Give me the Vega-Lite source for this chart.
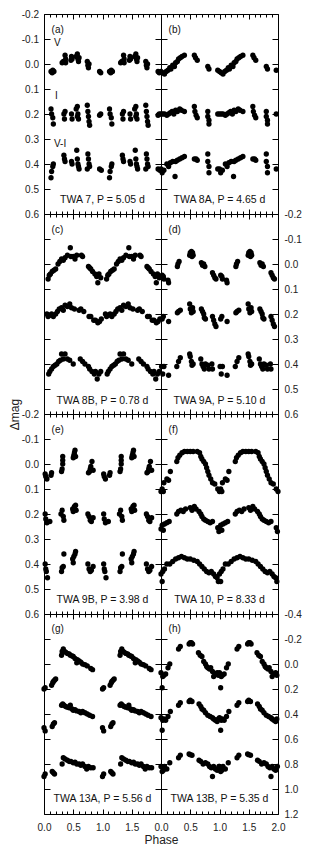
{
"$schema":"https://vega.github.io/schema/vega-lite/v6.json",
"padding":{"left":8,"top":9,"right":5,"bottom":5},
"background":"white",
"config":{
 "view":{"stroke":null},
 "font":"Liberation Sans",
 "text":{"font":"Liberation Sans","fontSize":10,"color":"#111"},
 "axis":{"domainColor":"#000","domainWidth":1,"tickColor":"#000","tickWidth":1,"grid":false,"labelFont":"Liberation Sans","labelFontSize":10,"labelColor":"#222","labelOverlap":false,"labelFlush":false,"labelBound":false,"titleFont":"Liberation Sans","titleFontSize":12,"titleFontWeight":"normal","titleColor":"#222"}
},
"datasets":{
"a":[{"x":0.12,"y":0.03},{"x":0.14,"y":0.035},{"x":0.15,"y":0.025},{"x":0.17,"y":0.03},{"x":0.31,"y":-0.005},{"x":0.33,"y":-0.01},{"x":0.36,"y":-0.035},{"x":0.37,"y":-0.02},{"x":0.37,"y":-0.005},{"x":0.46,"y":-0.015},{"x":0.47,"y":-0.03},{"x":0.48,"y":-0.02},{"x":0.55,"y":-0.03},{"x":0.57,"y":-0.04},{"x":0.58,"y":-0.02},{"x":0.59,"y":-0.01},{"x":0.6,"y":-0.025},{"x":0.74,"y":-0.01},{"x":0.75,"y":0.005},{"x":0.76,"y":0.015},{"x":0.77,"y":0.0},{"x":0.95,"y":0.03},{"x":0.97,"y":0.035},
{"x":1.12,"y":0.03},{"x":1.14,"y":0.035},{"x":1.15,"y":0.025},{"x":1.17,"y":0.03},{"x":1.31,"y":-0.005},{"x":1.33,"y":-0.01},{"x":1.36,"y":-0.035},{"x":1.37,"y":-0.02},{"x":1.37,"y":-0.005},{"x":1.46,"y":-0.015},{"x":1.47,"y":-0.03},{"x":1.48,"y":-0.02},{"x":1.55,"y":-0.03},{"x":1.57,"y":-0.04},{"x":1.58,"y":-0.02},{"x":1.59,"y":-0.01},{"x":1.6,"y":-0.025},{"x":1.74,"y":-0.01},{"x":1.75,"y":0.005},{"x":1.76,"y":0.015},{"x":1.77,"y":0.0},{"x":1.95,"y":0.03},{"x":1.97,"y":0.035},
{"x":0.12,"y":0.18},{"x":0.13,"y":0.2},{"x":0.15,"y":0.215},{"x":0.16,"y":0.24},{"x":0.34,"y":0.2},{"x":0.35,"y":0.22},{"x":0.36,"y":0.19},{"x":0.47,"y":0.2},{"x":0.48,"y":0.22},{"x":0.55,"y":0.18},{"x":0.57,"y":0.17},{"x":0.58,"y":0.2},{"x":0.59,"y":0.22},{"x":0.57,"y":0.21},{"x":0.74,"y":0.165},{"x":0.75,"y":0.19},{"x":0.76,"y":0.21},{"x":0.77,"y":0.23},{"x":0.78,"y":0.245},{"x":0.95,"y":0.205},{"x":0.97,"y":0.2},
{"x":1.12,"y":0.18},{"x":1.13,"y":0.2},{"x":1.15,"y":0.215},{"x":1.16,"y":0.24},{"x":1.34,"y":0.2},{"x":1.35,"y":0.22},{"x":1.36,"y":0.19},{"x":1.47,"y":0.2},{"x":1.48,"y":0.22},{"x":1.55,"y":0.18},{"x":1.57,"y":0.17},{"x":1.58,"y":0.2},{"x":1.59,"y":0.22},{"x":1.57,"y":0.21},{"x":1.74,"y":0.165},{"x":1.75,"y":0.19},{"x":1.76,"y":0.21},{"x":1.77,"y":0.23},{"x":1.78,"y":0.245},{"x":1.95,"y":0.205},{"x":1.97,"y":0.2},
{"x":0.12,"y":0.455},{"x":0.13,"y":0.43},{"x":0.15,"y":0.41},{"x":0.16,"y":0.4},{"x":0.34,"y":0.365},{"x":0.35,"y":0.38},{"x":0.36,"y":0.39},{"x":0.47,"y":0.39},{"x":0.48,"y":0.4},{"x":0.56,"y":0.345},{"x":0.57,"y":0.38},{"x":0.58,"y":0.4},{"x":0.6,"y":0.42},{"x":0.59,"y":0.41},{"x":0.74,"y":0.42},{"x":0.75,"y":0.36},{"x":0.76,"y":0.38},{"x":0.77,"y":0.4},{"x":0.78,"y":0.41},{"x":0.95,"y":0.42},{"x":0.98,"y":0.425},
{"x":1.12,"y":0.455},{"x":1.13,"y":0.43},{"x":1.15,"y":0.41},{"x":1.16,"y":0.4},{"x":1.34,"y":0.365},{"x":1.35,"y":0.38},{"x":1.36,"y":0.39},{"x":1.47,"y":0.39},{"x":1.48,"y":0.4},{"x":1.56,"y":0.345},{"x":1.57,"y":0.38},{"x":1.58,"y":0.4},{"x":1.6,"y":0.42},{"x":1.59,"y":0.41},{"x":1.74,"y":0.42},{"x":1.75,"y":0.36},{"x":1.76,"y":0.38},{"x":1.77,"y":0.4},{"x":1.78,"y":0.41},{"x":1.95,"y":0.42},{"x":1.98,"y":0.425}],
"b":[{"x":0.0,"y":0.03},{"x":0.03,"y":0.035},{"x":0.06,"y":0.04},{"x":0.09,"y":0.03},{"x":0.12,"y":0.025},{"x":0.15,"y":0.015},{"x":0.17,"y":0.02},{"x":0.2,"y":0.005},{"x":0.23,"y":0.01},{"x":0.25,"y":-0.005},{"x":0.28,"y":-0.01},{"x":0.3,"y":-0.02},{"x":0.33,"y":-0.025},{"x":0.36,"y":-0.03},{"x":0.4,"y":-0.035},{"x":0.57,"y":-0.035},{"x":0.59,"y":-0.025},{"x":0.62,"y":-0.015},{"x":0.8,"y":0.01},{"x":0.82,"y":0.02},{"x":0.97,"y":0.025},
{"x":1.0,"y":0.03},{"x":1.03,"y":0.035},{"x":1.06,"y":0.04},{"x":1.09,"y":0.03},{"x":1.12,"y":0.025},{"x":1.15,"y":0.015},{"x":1.17,"y":0.02},{"x":1.2,"y":0.005},{"x":1.23,"y":0.01},{"x":1.25,"y":-0.005},{"x":1.28,"y":-0.01},{"x":1.3,"y":-0.02},{"x":1.33,"y":-0.025},{"x":1.36,"y":-0.03},{"x":1.4,"y":-0.035},{"x":1.57,"y":-0.035},{"x":1.59,"y":-0.025},{"x":1.62,"y":-0.015},{"x":1.8,"y":0.01},{"x":1.82,"y":0.02},{"x":1.97,"y":0.025},
{"x":0.0,"y":0.2},{"x":0.03,"y":0.2},{"x":0.06,"y":0.2},{"x":0.1,"y":0.205},{"x":0.13,"y":0.2},{"x":0.16,"y":0.195},{"x":0.19,"y":0.19},{"x":0.22,"y":0.2},{"x":0.25,"y":0.185},{"x":0.28,"y":0.19},{"x":0.32,"y":0.18},{"x":0.35,"y":0.185},{"x":0.4,"y":0.19},{"x":0.57,"y":0.17},{"x":0.58,"y":0.19},{"x":0.6,"y":0.205},{"x":0.62,"y":0.215},{"x":0.8,"y":0.19},{"x":0.8,"y":0.21},{"x":0.82,"y":0.225},{"x":0.82,"y":0.24},{"x":0.97,"y":0.2},
{"x":1.0,"y":0.2},{"x":1.03,"y":0.2},{"x":1.06,"y":0.2},{"x":1.1,"y":0.205},{"x":1.13,"y":0.2},{"x":1.16,"y":0.195},{"x":1.19,"y":0.19},{"x":1.22,"y":0.2},{"x":1.25,"y":0.185},{"x":1.28,"y":0.19},{"x":1.32,"y":0.18},{"x":1.35,"y":0.185},{"x":1.4,"y":0.19},{"x":1.57,"y":0.17},{"x":1.58,"y":0.19},{"x":1.6,"y":0.205},{"x":1.62,"y":0.215},{"x":1.8,"y":0.19},{"x":1.8,"y":0.21},{"x":1.82,"y":0.225},{"x":1.82,"y":0.24},{"x":1.97,"y":0.2},
{"x":0.0,"y":0.42},{"x":0.02,"y":0.435},{"x":0.05,"y":0.425},{"x":0.1,"y":0.4},{"x":0.13,"y":0.41},{"x":0.16,"y":0.395},{"x":0.2,"y":0.39},{"x":0.24,"y":0.45},{"x":0.25,"y":0.39},{"x":0.28,"y":0.385},{"x":0.32,"y":0.38},{"x":0.36,"y":0.375},{"x":0.4,"y":0.37},{"x":0.57,"y":0.38},{"x":0.6,"y":0.38},{"x":0.62,"y":0.385},{"x":0.8,"y":0.36},{"x":0.8,"y":0.39},{"x":0.82,"y":0.41},{"x":0.82,"y":0.435},{"x":0.97,"y":0.42},
{"x":1.0,"y":0.42},{"x":1.02,"y":0.435},{"x":1.05,"y":0.425},{"x":1.1,"y":0.4},{"x":1.13,"y":0.41},{"x":1.16,"y":0.395},{"x":1.2,"y":0.39},{"x":1.24,"y":0.45},{"x":1.25,"y":0.39},{"x":1.28,"y":0.385},{"x":1.32,"y":0.38},{"x":1.36,"y":0.375},{"x":1.4,"y":0.37},{"x":1.57,"y":0.38},{"x":1.6,"y":0.38},{"x":1.62,"y":0.385},{"x":1.8,"y":0.36},{"x":1.8,"y":0.39},{"x":1.82,"y":0.41},{"x":1.82,"y":0.435},{"x":1.97,"y":0.42}],
"c":[{"x":0.07,"y":0.06},{"x":0.09,"y":0.045},{"x":0.11,"y":0.04},{"x":0.14,"y":0.03},{"x":0.17,"y":0.025},{"x":0.2,"y":0.02},{"x":0.24,"y":0.0},{"x":0.27,"y":-0.01},{"x":0.3,"y":-0.02},{"x":0.33,"y":-0.015},{"x":0.36,"y":-0.025},{"x":0.4,"y":-0.035},{"x":0.45,"y":-0.065},{"x":0.46,"y":-0.03},{"x":0.5,"y":-0.03},{"x":0.53,"y":-0.02},{"x":0.56,"y":-0.035},{"x":0.64,"y":-0.035},{"x":0.66,"y":-0.03},{"x":0.76,"y":0.01},{"x":0.78,"y":0.015},{"x":0.8,"y":0.02},{"x":0.83,"y":0.03},{"x":0.87,"y":0.04},{"x":0.9,"y":0.05},{"x":0.92,"y":0.075},{"x":0.94,"y":0.04},{"x":0.97,"y":0.055},
{"x":1.07,"y":0.06},{"x":1.09,"y":0.045},{"x":1.11,"y":0.04},{"x":1.14,"y":0.03},{"x":1.17,"y":0.025},{"x":1.2,"y":0.02},{"x":1.24,"y":0.0},{"x":1.27,"y":-0.01},{"x":1.3,"y":-0.02},{"x":1.33,"y":-0.015},{"x":1.36,"y":-0.025},{"x":1.4,"y":-0.035},{"x":1.45,"y":-0.065},{"x":1.46,"y":-0.03},{"x":1.5,"y":-0.03},{"x":1.53,"y":-0.02},{"x":1.56,"y":-0.035},{"x":1.64,"y":-0.035},{"x":1.66,"y":-0.03},{"x":1.76,"y":0.01},{"x":1.78,"y":0.015},{"x":1.8,"y":0.02},{"x":1.83,"y":0.03},{"x":1.87,"y":0.04},{"x":1.9,"y":0.05},{"x":1.92,"y":0.075},{"x":1.94,"y":0.04},{"x":1.97,"y":0.055},
{"x":0.05,"y":0.2},{"x":0.07,"y":0.21},{"x":0.1,"y":0.205},{"x":0.13,"y":0.2},{"x":0.16,"y":0.21},{"x":0.2,"y":0.2},{"x":0.23,"y":0.19},{"x":0.26,"y":0.18},{"x":0.3,"y":0.175},{"x":0.33,"y":0.185},{"x":0.36,"y":0.165},{"x":0.4,"y":0.17},{"x":0.44,"y":0.16},{"x":0.47,"y":0.175},{"x":0.52,"y":0.18},{"x":0.6,"y":0.185},{"x":0.63,"y":0.18},{"x":0.68,"y":0.19},{"x":0.77,"y":0.21},{"x":0.8,"y":0.21},{"x":0.85,"y":0.225},{"x":0.88,"y":0.225},{"x":0.92,"y":0.235},{"x":0.95,"y":0.23},{"x":0.98,"y":0.22},
{"x":1.05,"y":0.2},{"x":1.07,"y":0.21},{"x":1.1,"y":0.205},{"x":1.13,"y":0.2},{"x":1.16,"y":0.21},{"x":1.2,"y":0.2},{"x":1.23,"y":0.19},{"x":1.26,"y":0.18},{"x":1.3,"y":0.175},{"x":1.33,"y":0.185},{"x":1.36,"y":0.165},{"x":1.4,"y":0.17},{"x":1.44,"y":0.16},{"x":1.47,"y":0.175},{"x":1.52,"y":0.18},{"x":1.6,"y":0.185},{"x":1.63,"y":0.18},{"x":1.68,"y":0.19},{"x":1.77,"y":0.21},{"x":1.8,"y":0.21},{"x":1.85,"y":0.225},{"x":1.88,"y":0.225},{"x":1.92,"y":0.235},{"x":1.95,"y":0.23},{"x":1.98,"y":0.22},
{"x":0.08,"y":0.44},{"x":0.1,"y":0.43},{"x":0.13,"y":0.42},{"x":0.16,"y":0.41},{"x":0.19,"y":0.405},{"x":0.22,"y":0.4},{"x":0.25,"y":0.39},{"x":0.28,"y":0.385},{"x":0.3,"y":0.36},{"x":0.33,"y":0.38},{"x":0.36,"y":0.36},{"x":0.4,"y":0.38},{"x":0.44,"y":0.385},{"x":0.5,"y":0.4},{"x":0.62,"y":0.38},{"x":0.66,"y":0.39},{"x":0.7,"y":0.4},{"x":0.76,"y":0.41},{"x":0.78,"y":0.42},{"x":0.82,"y":0.43},{"x":0.86,"y":0.44},{"x":0.88,"y":0.43},{"x":0.91,"y":0.46},{"x":0.94,"y":0.44},{"x":0.97,"y":0.43},
{"x":1.08,"y":0.44},{"x":1.1,"y":0.43},{"x":1.13,"y":0.42},{"x":1.16,"y":0.41},{"x":1.19,"y":0.405},{"x":1.22,"y":0.4},{"x":1.25,"y":0.39},{"x":1.28,"y":0.385},{"x":1.3,"y":0.36},{"x":1.33,"y":0.38},{"x":1.36,"y":0.36},{"x":1.4,"y":0.38},{"x":1.44,"y":0.385},{"x":1.5,"y":0.4},{"x":1.62,"y":0.38},{"x":1.66,"y":0.39},{"x":1.7,"y":0.4},{"x":1.76,"y":0.41},{"x":1.78,"y":0.42},{"x":1.82,"y":0.43},{"x":1.86,"y":0.44},{"x":1.88,"y":0.43},{"x":1.91,"y":0.46},{"x":1.94,"y":0.44},{"x":1.97,"y":0.43}],
"d":[{"x":0.02,"y":0.045},{"x":0.04,"y":0.05},{"x":0.05,"y":0.06},{"x":0.12,"y":0.065},{"x":0.13,"y":0.075},{"x":0.28,"y":0.01},{"x":0.29,"y":0.0},{"x":0.31,"y":-0.01},{"x":0.49,"y":-0.035},{"x":0.5,"y":-0.045},{"x":0.52,"y":-0.05},{"x":0.54,"y":-0.045},{"x":0.55,"y":-0.035},{"x":0.53,"y":-0.03},{"x":0.69,"y":-0.005},{"x":0.71,"y":0.005},{"x":0.73,"y":0.0},{"x":0.75,"y":0.01},{"x":0.88,"y":0.035},{"x":0.9,"y":0.045},{"x":0.92,"y":0.055},{"x":0.94,"y":0.06},
{"x":1.02,"y":0.045},{"x":1.04,"y":0.05},{"x":1.05,"y":0.06},{"x":1.12,"y":0.065},{"x":1.13,"y":0.075},{"x":1.28,"y":0.01},{"x":1.29,"y":0.0},{"x":1.31,"y":-0.01},{"x":1.49,"y":-0.035},{"x":1.5,"y":-0.045},{"x":1.52,"y":-0.05},{"x":1.54,"y":-0.045},{"x":1.55,"y":-0.035},{"x":1.53,"y":-0.03},{"x":1.69,"y":-0.005},{"x":1.71,"y":0.005},{"x":1.73,"y":0.0},{"x":1.75,"y":0.01},{"x":1.88,"y":0.035},{"x":1.9,"y":0.045},{"x":1.92,"y":0.055},{"x":1.94,"y":0.06},
{"x":0.02,"y":0.22},{"x":0.04,"y":0.21},{"x":0.13,"y":0.23},{"x":0.28,"y":0.195},{"x":0.3,"y":0.19},{"x":0.33,"y":0.185},{"x":0.49,"y":0.16},{"x":0.5,"y":0.18},{"x":0.52,"y":0.195},{"x":0.54,"y":0.175},{"x":0.55,"y":0.19},{"x":0.69,"y":0.18},{"x":0.71,"y":0.19},{"x":0.73,"y":0.2},{"x":0.74,"y":0.215},{"x":0.76,"y":0.22},{"x":0.88,"y":0.21},{"x":0.9,"y":0.225},{"x":0.92,"y":0.24},{"x":0.94,"y":0.25},
{"x":1.02,"y":0.22},{"x":1.04,"y":0.21},{"x":1.13,"y":0.23},{"x":1.28,"y":0.195},{"x":1.3,"y":0.19},{"x":1.33,"y":0.185},{"x":1.49,"y":0.16},{"x":1.5,"y":0.18},{"x":1.52,"y":0.195},{"x":1.54,"y":0.175},{"x":1.55,"y":0.19},{"x":1.69,"y":0.18},{"x":1.71,"y":0.19},{"x":1.73,"y":0.2},{"x":1.74,"y":0.215},{"x":1.76,"y":0.22},{"x":1.88,"y":0.21},{"x":1.9,"y":0.225},{"x":1.92,"y":0.24},{"x":1.94,"y":0.25},
{"x":0.01,"y":0.41},{"x":0.03,"y":0.44},{"x":0.05,"y":0.41},{"x":0.13,"y":0.445},{"x":0.27,"y":0.41},{"x":0.3,"y":0.39},{"x":0.33,"y":0.375},{"x":0.49,"y":0.36},{"x":0.5,"y":0.37},{"x":0.52,"y":0.39},{"x":0.53,"y":0.405},{"x":0.55,"y":0.4},{"x":0.68,"y":0.38},{"x":0.7,"y":0.4},{"x":0.72,"y":0.41},{"x":0.74,"y":0.42},{"x":0.76,"y":0.4},{"x":0.8,"y":0.405},{"x":0.82,"y":0.42},{"x":0.87,"y":0.4},{"x":0.88,"y":0.42},
{"x":1.01,"y":0.41},{"x":1.03,"y":0.44},{"x":1.05,"y":0.41},{"x":1.13,"y":0.445},{"x":1.27,"y":0.41},{"x":1.3,"y":0.39},{"x":1.33,"y":0.375},{"x":1.49,"y":0.36},{"x":1.5,"y":0.37},{"x":1.52,"y":0.39},{"x":1.53,"y":0.405},{"x":1.55,"y":0.4},{"x":1.68,"y":0.38},{"x":1.7,"y":0.4},{"x":1.72,"y":0.41},{"x":1.74,"y":0.42},{"x":1.76,"y":0.4},{"x":1.8,"y":0.405},{"x":1.82,"y":0.42},{"x":1.87,"y":0.4},{"x":1.88,"y":0.42}],
"e":[{"x":0.02,"y":0.04},{"x":0.03,"y":0.05},{"x":0.05,"y":0.06},{"x":0.12,"y":0.045},{"x":0.13,"y":0.035},{"x":0.3,"y":0.03},{"x":0.31,"y":0.02},{"x":0.32,"y":0.0},{"x":0.32,"y":-0.015},{"x":0.32,"y":-0.03},{"x":0.5,"y":-0.025},{"x":0.51,"y":-0.035},{"x":0.52,"y":-0.045},{"x":0.53,"y":-0.055},{"x":0.54,"y":-0.03},{"x":0.76,"y":0.035},{"x":0.78,"y":0.03},{"x":0.79,"y":0.02},{"x":0.8,"y":0.01},{"x":0.82,"y":-0.01},{"x":0.84,"y":0.025},
{"x":1.02,"y":0.04},{"x":1.03,"y":0.05},{"x":1.05,"y":0.06},{"x":1.12,"y":0.045},{"x":1.13,"y":0.035},{"x":1.3,"y":0.03},{"x":1.31,"y":0.02},{"x":1.32,"y":0.0},{"x":1.32,"y":-0.015},{"x":1.32,"y":-0.03},{"x":1.5,"y":-0.025},{"x":1.51,"y":-0.035},{"x":1.52,"y":-0.045},{"x":1.53,"y":-0.055},{"x":1.54,"y":-0.03},{"x":1.76,"y":0.035},{"x":1.78,"y":0.03},{"x":1.79,"y":0.02},{"x":1.8,"y":0.01},{"x":1.82,"y":-0.01},{"x":1.84,"y":0.025},
{"x":0.02,"y":0.2},{"x":0.03,"y":0.22},{"x":0.05,"y":0.235},{"x":0.1,"y":0.23},{"x":0.29,"y":0.2},{"x":0.31,"y":0.185},{"x":0.33,"y":0.21},{"x":0.34,"y":0.225},{"x":0.49,"y":0.18},{"x":0.5,"y":0.19},{"x":0.52,"y":0.17},{"x":0.54,"y":0.165},{"x":0.55,"y":0.185},{"x":0.75,"y":0.2},{"x":0.77,"y":0.21},{"x":0.79,"y":0.225},{"x":0.81,"y":0.23},{"x":0.84,"y":0.215},
{"x":1.02,"y":0.2},{"x":1.03,"y":0.22},{"x":1.05,"y":0.235},{"x":1.1,"y":0.23},{"x":1.29,"y":0.2},{"x":1.31,"y":0.185},{"x":1.33,"y":0.21},{"x":1.34,"y":0.225},{"x":1.49,"y":0.18},{"x":1.5,"y":0.19},{"x":1.52,"y":0.17},{"x":1.54,"y":0.165},{"x":1.55,"y":0.185},{"x":1.75,"y":0.2},{"x":1.77,"y":0.21},{"x":1.79,"y":0.225},{"x":1.81,"y":0.23},{"x":1.84,"y":0.215},
{"x":0.02,"y":0.4},{"x":0.03,"y":0.42},{"x":0.04,"y":0.43},{"x":0.06,"y":0.455},{"x":0.3,"y":0.43},{"x":0.31,"y":0.415},{"x":0.33,"y":0.41},{"x":0.34,"y":0.36},{"x":0.49,"y":0.38},{"x":0.5,"y":0.395},{"x":0.51,"y":0.37},{"x":0.53,"y":0.36},{"x":0.54,"y":0.35},{"x":0.75,"y":0.4},{"x":0.77,"y":0.42},{"x":0.79,"y":0.43},{"x":0.81,"y":0.425},{"x":0.84,"y":0.41},
{"x":1.02,"y":0.4},{"x":1.03,"y":0.42},{"x":1.04,"y":0.43},{"x":1.06,"y":0.455},{"x":1.3,"y":0.43},{"x":1.31,"y":0.415},{"x":1.33,"y":0.41},{"x":1.34,"y":0.36},{"x":1.49,"y":0.38},{"x":1.5,"y":0.395},{"x":1.51,"y":0.37},{"x":1.53,"y":0.36},{"x":1.54,"y":0.35},{"x":1.75,"y":0.4},{"x":1.77,"y":0.42},{"x":1.79,"y":0.43},{"x":1.81,"y":0.425},{"x":1.84,"y":0.41}],
"f":[{"x":0.0,"y":0.11},{"x":0.02,"y":0.1},{"x":0.04,"y":0.11},{"x":0.05,"y":0.075},{"x":0.1,"y":0.06},{"x":0.13,"y":0.065},{"x":0.16,"y":0.03},{"x":0.27,"y":-0.01},{"x":0.29,"y":-0.025},{"x":0.32,"y":-0.035},{"x":0.36,"y":-0.045},{"x":0.4,"y":-0.05},{"x":0.45,"y":-0.05},{"x":0.5,"y":-0.05},{"x":0.55,"y":-0.05},{"x":0.62,"y":-0.05},{"x":0.66,"y":-0.045},{"x":0.68,"y":-0.03},{"x":0.7,"y":-0.02},{"x":0.73,"y":-0.01},{"x":0.76,"y":0.0},{"x":0.78,"y":0.015},{"x":0.8,"y":0.03},{"x":0.82,"y":0.045},{"x":0.85,"y":0.06},{"x":0.88,"y":0.075},{"x":0.92,"y":0.08},{"x":0.97,"y":0.1},
{"x":1.0,"y":0.11},{"x":1.02,"y":0.1},{"x":1.04,"y":0.11},{"x":1.05,"y":0.075},{"x":1.1,"y":0.06},{"x":1.13,"y":0.065},{"x":1.16,"y":0.03},{"x":1.27,"y":-0.01},{"x":1.29,"y":-0.025},{"x":1.32,"y":-0.035},{"x":1.36,"y":-0.045},{"x":1.4,"y":-0.05},{"x":1.45,"y":-0.05},{"x":1.5,"y":-0.05},{"x":1.55,"y":-0.05},{"x":1.62,"y":-0.05},{"x":1.66,"y":-0.045},{"x":1.68,"y":-0.03},{"x":1.7,"y":-0.02},{"x":1.73,"y":-0.01},{"x":1.76,"y":0.0},{"x":1.78,"y":0.015},{"x":1.8,"y":0.03},{"x":1.82,"y":0.045},{"x":1.85,"y":0.06},{"x":1.88,"y":0.075},{"x":1.92,"y":0.08},{"x":1.97,"y":0.1},{"x":2.0,"y":0.11},
{"x":0.0,"y":0.26},{"x":0.02,"y":0.245},{"x":0.04,"y":0.265},{"x":0.06,"y":0.24},{"x":0.1,"y":0.235},{"x":0.14,"y":0.23},{"x":0.27,"y":0.2},{"x":0.3,"y":0.19},{"x":0.34,"y":0.185},{"x":0.38,"y":0.19},{"x":0.42,"y":0.18},{"x":0.5,"y":0.175},{"x":0.53,"y":0.185},{"x":0.57,"y":0.17},{"x":0.6,"y":0.18},{"x":0.65,"y":0.19},{"x":0.68,"y":0.2},{"x":0.7,"y":0.21},{"x":0.73,"y":0.22},{"x":0.76,"y":0.225},{"x":0.8,"y":0.23},{"x":0.84,"y":0.235},{"x":0.88,"y":0.23},{"x":0.97,"y":0.255},{"x":0.99,"y":0.27},
{"x":1.0,"y":0.26},{"x":1.02,"y":0.245},{"x":1.04,"y":0.265},{"x":1.06,"y":0.24},{"x":1.1,"y":0.235},{"x":1.14,"y":0.23},{"x":1.27,"y":0.2},{"x":1.3,"y":0.19},{"x":1.34,"y":0.185},{"x":1.38,"y":0.19},{"x":1.42,"y":0.18},{"x":1.5,"y":0.175},{"x":1.53,"y":0.185},{"x":1.57,"y":0.17},{"x":1.6,"y":0.18},{"x":1.65,"y":0.19},{"x":1.68,"y":0.2},{"x":1.7,"y":0.21},{"x":1.73,"y":0.22},{"x":1.76,"y":0.225},{"x":1.8,"y":0.23},{"x":1.84,"y":0.235},{"x":1.88,"y":0.23},{"x":1.97,"y":0.255},{"x":1.99,"y":0.27},
{"x":0.0,"y":0.44},{"x":0.02,"y":0.47},{"x":0.03,"y":0.43},{"x":0.06,"y":0.42},{"x":0.1,"y":0.4},{"x":0.15,"y":0.4},{"x":0.2,"y":0.39},{"x":0.25,"y":0.38},{"x":0.3,"y":0.375},{"x":0.35,"y":0.37},{"x":0.4,"y":0.375},{"x":0.45,"y":0.38},{"x":0.5,"y":0.38},{"x":0.56,"y":0.385},{"x":0.62,"y":0.39},{"x":0.66,"y":0.4},{"x":0.7,"y":0.41},{"x":0.74,"y":0.42},{"x":0.78,"y":0.43},{"x":0.82,"y":0.435},{"x":0.86,"y":0.43},{"x":0.9,"y":0.44},{"x":0.93,"y":0.45},{"x":0.96,"y":0.455},{"x":0.98,"y":0.47},
{"x":1.0,"y":0.44},{"x":1.02,"y":0.47},{"x":1.03,"y":0.43},{"x":1.06,"y":0.42},{"x":1.1,"y":0.4},{"x":1.15,"y":0.4},{"x":1.2,"y":0.39},{"x":1.25,"y":0.38},{"x":1.3,"y":0.375},{"x":1.35,"y":0.37},{"x":1.4,"y":0.375},{"x":1.45,"y":0.38},{"x":1.5,"y":0.38},{"x":1.56,"y":0.385},{"x":1.62,"y":0.39},{"x":1.66,"y":0.4},{"x":1.7,"y":0.41},{"x":1.74,"y":0.42},{"x":1.78,"y":0.43},{"x":1.82,"y":0.435},{"x":1.86,"y":0.43},{"x":1.9,"y":0.44},{"x":1.93,"y":0.45},{"x":1.96,"y":0.455},{"x":1.98,"y":0.47}],
"g":[{"x":0.0,"y":0.2},{"x":0.02,"y":0.19},{"x":0.13,"y":0.17},{"x":0.15,"y":0.15},{"x":0.16,"y":0.14},{"x":0.18,"y":0.13},{"x":0.2,"y":0.12},{"x":0.3,"y":-0.07},{"x":0.31,"y":-0.1},{"x":0.33,"y":-0.12},{"x":0.35,"y":-0.1},{"x":0.37,"y":-0.095},{"x":0.4,"y":-0.085},{"x":0.43,"y":-0.08},{"x":0.45,"y":-0.07},{"x":0.48,"y":-0.065},{"x":0.5,"y":-0.06},{"x":0.53,"y":-0.045},{"x":0.56,"y":-0.01},{"x":0.57,"y":-0.035},{"x":0.6,"y":-0.025},{"x":0.63,"y":-0.015},{"x":0.66,"y":0.0},{"x":0.7,"y":0.005},{"x":0.74,"y":0.015},{"x":0.8,"y":0.035},{"x":0.83,"y":0.045},
{"x":1.0,"y":0.2},{"x":1.02,"y":0.19},{"x":1.13,"y":0.17},{"x":1.15,"y":0.15},{"x":1.16,"y":0.14},{"x":1.18,"y":0.13},{"x":1.2,"y":0.12},{"x":1.3,"y":-0.07},{"x":1.31,"y":-0.1},{"x":1.33,"y":-0.12},{"x":1.35,"y":-0.1},{"x":1.37,"y":-0.095},{"x":1.4,"y":-0.085},{"x":1.43,"y":-0.08},{"x":1.45,"y":-0.07},{"x":1.48,"y":-0.065},{"x":1.5,"y":-0.06},{"x":1.53,"y":-0.045},{"x":1.56,"y":-0.01},{"x":1.57,"y":-0.035},{"x":1.6,"y":-0.025},{"x":1.63,"y":-0.015},{"x":1.66,"y":0.0},{"x":1.7,"y":0.005},{"x":1.74,"y":0.015},{"x":1.8,"y":0.035},{"x":1.83,"y":0.045},
{"x":0.0,"y":0.51},{"x":0.02,"y":0.535},{"x":0.14,"y":0.5},{"x":0.16,"y":0.48},{"x":0.18,"y":0.47},{"x":0.3,"y":0.33},{"x":0.32,"y":0.32},{"x":0.34,"y":0.33},{"x":0.37,"y":0.34},{"x":0.4,"y":0.345},{"x":0.43,"y":0.35},{"x":0.45,"y":0.33},{"x":0.48,"y":0.36},{"x":0.5,"y":0.37},{"x":0.53,"y":0.365},{"x":0.56,"y":0.375},{"x":0.6,"y":0.38},{"x":0.63,"y":0.39},{"x":0.66,"y":0.38},{"x":0.7,"y":0.39},{"x":0.74,"y":0.4},{"x":0.78,"y":0.41},{"x":0.83,"y":0.42},
{"x":1.0,"y":0.51},{"x":1.02,"y":0.535},{"x":1.14,"y":0.5},{"x":1.16,"y":0.48},{"x":1.18,"y":0.47},{"x":1.3,"y":0.33},{"x":1.32,"y":0.32},{"x":1.34,"y":0.33},{"x":1.37,"y":0.34},{"x":1.4,"y":0.345},{"x":1.43,"y":0.35},{"x":1.45,"y":0.33},{"x":1.48,"y":0.36},{"x":1.5,"y":0.37},{"x":1.53,"y":0.365},{"x":1.56,"y":0.375},{"x":1.6,"y":0.38},{"x":1.63,"y":0.39},{"x":1.66,"y":0.38},{"x":1.7,"y":0.39},{"x":1.74,"y":0.4},{"x":1.78,"y":0.41},{"x":1.83,"y":0.42},
{"x":0.0,"y":0.9},{"x":0.02,"y":0.88},{"x":0.14,"y":0.86},{"x":0.16,"y":0.87},{"x":0.18,"y":0.88},{"x":0.31,"y":0.8},{"x":0.33,"y":0.75},{"x":0.36,"y":0.76},{"x":0.4,"y":0.77},{"x":0.43,"y":0.78},{"x":0.46,"y":0.78},{"x":0.5,"y":0.79},{"x":0.53,"y":0.785},{"x":0.56,"y":0.8},{"x":0.6,"y":0.8},{"x":0.63,"y":0.81},{"x":0.66,"y":0.8},{"x":0.7,"y":0.82},{"x":0.73,"y":0.84},{"x":0.76,"y":0.82},{"x":0.8,"y":0.83},{"x":0.84,"y":0.83},
{"x":1.0,"y":0.9},{"x":1.02,"y":0.88},{"x":1.14,"y":0.86},{"x":1.16,"y":0.87},{"x":1.18,"y":0.88},{"x":1.31,"y":0.8},{"x":1.33,"y":0.75},{"x":1.36,"y":0.76},{"x":1.4,"y":0.77},{"x":1.43,"y":0.78},{"x":1.46,"y":0.78},{"x":1.5,"y":0.79},{"x":1.53,"y":0.785},{"x":1.56,"y":0.8},{"x":1.6,"y":0.8},{"x":1.63,"y":0.81},{"x":1.66,"y":0.8},{"x":1.7,"y":0.82},{"x":1.73,"y":0.84},{"x":1.76,"y":0.82},{"x":1.8,"y":0.83},{"x":1.84,"y":0.83}],
"h":[{"x":0.0,"y":0.07},{"x":0.02,"y":0.19},{"x":0.03,"y":0.1},{"x":0.05,"y":0.09},{"x":0.08,"y":0.08},{"x":0.12,"y":0.03},{"x":0.15,"y":0.0},{"x":0.3,"y":-0.12},{"x":0.33,"y":-0.14},{"x":0.48,"y":-0.16},{"x":0.5,"y":-0.17},{"x":0.52,"y":-0.17},{"x":0.54,"y":-0.16},{"x":0.64,"y":-0.09},{"x":0.67,"y":-0.07},{"x":0.7,"y":-0.06},{"x":0.73,"y":-0.02},{"x":0.76,"y":0.0},{"x":0.78,"y":0.02},{"x":0.8,"y":0.03},{"x":0.83,"y":0.04},{"x":0.85,"y":0.03},{"x":0.88,"y":0.06},{"x":0.9,"y":0.1},{"x":0.93,"y":0.08},{"x":0.96,"y":0.07},{"x":0.98,"y":0.09},
{"x":1.0,"y":0.07},{"x":1.02,"y":0.19},{"x":1.03,"y":0.1},{"x":1.05,"y":0.09},{"x":1.08,"y":0.08},{"x":1.12,"y":0.03},{"x":1.15,"y":0.0},{"x":1.3,"y":-0.12},{"x":1.33,"y":-0.14},{"x":1.48,"y":-0.16},{"x":1.5,"y":-0.17},{"x":1.52,"y":-0.17},{"x":1.54,"y":-0.16},{"x":1.64,"y":-0.09},{"x":1.67,"y":-0.07},{"x":1.7,"y":-0.06},{"x":1.73,"y":-0.02},{"x":1.76,"y":0.0},{"x":1.78,"y":0.02},{"x":1.8,"y":0.03},{"x":1.83,"y":0.04},{"x":1.85,"y":0.03},{"x":1.88,"y":0.06},{"x":1.9,"y":0.1},{"x":1.93,"y":0.08},{"x":1.96,"y":0.07},{"x":1.98,"y":0.09},
{"x":0.0,"y":0.43},{"x":0.02,"y":0.53},{"x":0.03,"y":0.45},{"x":0.05,"y":0.44},{"x":0.08,"y":0.45},{"x":0.12,"y":0.42},{"x":0.16,"y":0.38},{"x":0.3,"y":0.33},{"x":0.33,"y":0.31},{"x":0.48,"y":0.3},{"x":0.5,"y":0.29},{"x":0.53,"y":0.3},{"x":0.65,"y":0.32},{"x":0.68,"y":0.34},{"x":0.7,"y":0.36},{"x":0.73,"y":0.37},{"x":0.76,"y":0.39},{"x":0.8,"y":0.41},{"x":0.84,"y":0.42},{"x":0.88,"y":0.43},{"x":0.9,"y":0.44},{"x":0.93,"y":0.45},{"x":0.96,"y":0.46},{"x":0.98,"y":0.44},
{"x":1.0,"y":0.43},{"x":1.02,"y":0.53},{"x":1.03,"y":0.45},{"x":1.05,"y":0.44},{"x":1.08,"y":0.45},{"x":1.12,"y":0.42},{"x":1.16,"y":0.38},{"x":1.3,"y":0.33},{"x":1.33,"y":0.31},{"x":1.48,"y":0.3},{"x":1.5,"y":0.29},{"x":1.53,"y":0.3},{"x":1.65,"y":0.32},{"x":1.68,"y":0.34},{"x":1.7,"y":0.36},{"x":1.73,"y":0.37},{"x":1.76,"y":0.39},{"x":1.8,"y":0.41},{"x":1.84,"y":0.42},{"x":1.88,"y":0.43},{"x":1.9,"y":0.44},{"x":1.93,"y":0.45},{"x":1.96,"y":0.46},{"x":1.98,"y":0.44},
{"x":0.0,"y":0.82},{"x":0.02,"y":0.86},{"x":0.04,"y":0.85},{"x":0.06,"y":0.82},{"x":0.1,"y":0.84},{"x":0.15,"y":0.79},{"x":0.3,"y":0.75},{"x":0.33,"y":0.73},{"x":0.48,"y":0.72},{"x":0.5,"y":0.725},{"x":0.53,"y":0.73},{"x":0.65,"y":0.77},{"x":0.68,"y":0.78},{"x":0.72,"y":0.8},{"x":0.76,"y":0.79},{"x":0.8,"y":0.8},{"x":0.83,"y":0.82},{"x":0.86,"y":0.83},{"x":0.88,"y":0.9},{"x":0.9,"y":0.82},{"x":0.93,"y":0.84},{"x":0.96,"y":0.85},{"x":0.99,"y":0.82},
{"x":1.0,"y":0.82},{"x":1.02,"y":0.86},{"x":1.04,"y":0.85},{"x":1.06,"y":0.82},{"x":1.1,"y":0.84},{"x":1.15,"y":0.79},{"x":1.3,"y":0.75},{"x":1.33,"y":0.73},{"x":1.48,"y":0.72},{"x":1.5,"y":0.725},{"x":1.53,"y":0.73},{"x":1.65,"y":0.77},{"x":1.68,"y":0.78},{"x":1.72,"y":0.8},{"x":1.76,"y":0.79},{"x":1.8,"y":0.8},{"x":1.83,"y":0.82},{"x":1.86,"y":0.83},{"x":1.88,"y":0.9},{"x":1.9,"y":0.82},{"x":1.93,"y":0.84},{"x":1.96,"y":0.85},{"x":1.99,"y":0.82}]
},
"columns":2,
"spacing":0,
"bounds":"flush",
"concat":[
{"width":117,"height":200,"data":{"name":"a"},"resolve":{"axis":{"x":"independent","y":"independent"}},
"layer":[
{"mark":{"type":"circle","size":28,"opacity":1,"color":"#000"},"encoding":{
"x":{"field":"x","type":"quantitative","scale":{"domain":[0,2],"nice":false,"zero":false},"axis":{"orient":"bottom","values":[0,0.1,0.2,0.3,0.4,0.5,0.6,0.7,0.8,0.9,1,1.1,1.2,1.3,1.4,1.5,1.6,1.7,1.8,1.9,2],"labels":false,"tickSize":{"condition":{"test":"abs(datum.value*2-round(datum.value*2))<0.01","value":-5},"value":-3},"title":null}},
"y":{"field":"y","type":"quantitative","scale":{"domain":[-0.2,0.6],"reverse":true,"nice":false,"zero":false},"axis":{"orient":"left","values":[-0.2,-0.1,0,0.1,0.2,0.3,0.4,0.5,0.6],"tickSize":-6,"labelPadding":11.5,"labelExpr":"(datum.value<-0.001?'-':'')+format(abs(datum.value),'.1f')","title":null}}}},
{"data":{"values":[{}]},"mark":{"type":"text","text":"(a)","align":"left","baseline":"middle"},"encoding":{
"x":{"datum":0.13,"type":"quantitative","axis":{"orient":"top","values":[0,0.1,0.2,0.3,0.4,0.5,0.6,0.7,0.8,0.9,1,1.1,1.2,1.3,1.4,1.5,1.6,1.7,1.8,1.9,2],"labels":false,"tickSize":{"condition":{"test":"abs(datum.value*2-round(datum.value*2))<0.01","value":-5},"value":-3},"title":null}},
"y":{"datum":-0.135,"type":"quantitative","axis":{"orient":"right","values":[-0.2,-0.1,0,0.1,0.2,0.3,0.4,0.5,0.6],"tickSize":-6,"labels":false,"title":null}}}},
{"data":{"values":[{}]},"mark":{"type":"text","text":"TWA 7, P = 5.05 d","align":"center","baseline":"middle","fontSize":10.5},"encoding":{"x":{"datum":1,"type":"quantitative","axis":null},"y":{"datum":0.543,"type":"quantitative","axis":null}}},
{"data":{"values":[{}]},"mark":{"type":"text","text":"V","align":"left","baseline":"middle"},"encoding":{"x":{"datum":0.17,"type":"quantitative","axis":null},"y":{"datum":-0.084,"type":"quantitative","axis":null}}},
{"data":{"values":[{}]},"mark":{"type":"text","text":"I","align":"left","baseline":"middle"},"encoding":{"x":{"datum":0.19,"type":"quantitative","axis":null},"y":{"datum":0.126,"type":"quantitative","axis":null}}},
{"data":{"values":[{}]},"mark":{"type":"text","text":"V-I","align":"left","baseline":"middle"},"encoding":{"x":{"datum":0.17,"type":"quantitative","axis":null},"y":{"datum":0.32,"type":"quantitative","axis":null}}}
]},
{"width":117,"height":200,"data":{"name":"b"},"resolve":{"axis":{"x":"independent","y":"independent"}},
"layer":[
{"mark":{"type":"circle","size":28,"opacity":1,"color":"#000"},"encoding":{
"x":{"field":"x","type":"quantitative","scale":{"domain":[0,2],"nice":false,"zero":false},"axis":{"orient":"bottom","values":[0,0.1,0.2,0.3,0.4,0.5,0.6,0.7,0.8,0.9,1,1.1,1.2,1.3,1.4,1.5,1.6,1.7,1.8,1.9,2],"labels":false,"tickSize":{"condition":{"test":"abs(datum.value*2-round(datum.value*2))<0.01","value":-5},"value":-3},"title":null}},
"y":{"field":"y","type":"quantitative","scale":{"domain":[-0.2,0.6],"reverse":true,"nice":false,"zero":false},"axis":{"orient":"left","values":[-0.2,-0.1,0,0.1,0.2,0.3,0.4,0.5,0.6],"tickSize":-6,"labels":false,"title":null}}}},
{"data":{"values":[{}]},"mark":{"type":"text","text":"(b)","align":"left","baseline":"middle"},"encoding":{
"x":{"datum":0.13,"type":"quantitative","axis":{"orient":"top","values":[0,0.1,0.2,0.3,0.4,0.5,0.6,0.7,0.8,0.9,1,1.1,1.2,1.3,1.4,1.5,1.6,1.7,1.8,1.9,2],"labels":false,"tickSize":{"condition":{"test":"abs(datum.value*2-round(datum.value*2))<0.01","value":-5},"value":-3},"title":null}},
"y":{"datum":-0.135,"type":"quantitative","axis":{"orient":"right","values":[-0.2,-0.1,0,0.1,0.2,0.3,0.4,0.5,0.6],"tickSize":-6,"labels":false,"title":null}}}},
{"data":{"values":[{}]},"mark":{"type":"text","text":"TWA 8A, P = 4.65 d","align":"center","baseline":"middle","fontSize":10.5},"encoding":{"x":{"datum":1,"type":"quantitative","axis":null},"y":{"datum":0.543,"type":"quantitative","axis":null}}}
]},
{"width":117,"height":200,"data":{"name":"c"},"resolve":{"axis":{"x":"independent","y":"independent"}},
"layer":[
{"mark":{"type":"circle","size":28,"opacity":1,"color":"#000"},"encoding":{
"x":{"field":"x","type":"quantitative","scale":{"domain":[0,2],"nice":false,"zero":false},"axis":{"orient":"bottom","values":[0,0.1,0.2,0.3,0.4,0.5,0.6,0.7,0.8,0.9,1,1.1,1.2,1.3,1.4,1.5,1.6,1.7,1.8,1.9,2],"labels":false,"tickSize":{"condition":{"test":"abs(datum.value*2-round(datum.value*2))<0.01","value":-5},"value":-3},"title":null}},
"y":{"field":"y","type":"quantitative","scale":{"domain":[-0.2,0.6],"reverse":true,"nice":false,"zero":false},"axis":{"orient":"left","values":[-0.2,-0.1,0,0.1,0.2,0.3,0.4,0.5,0.6],"tickSize":-6,"labels":false,"title":"Δmag","titleX":-30,"titleY":200,"titleAngle":270,"titleAlign":"center","titleBaseline":"middle"}}}},
{"data":{"values":[{}]},"mark":{"type":"text","text":"(c)","align":"left","baseline":"middle"},"encoding":{
"x":{"datum":0.13,"type":"quantitative","axis":{"orient":"top","values":[0,0.1,0.2,0.3,0.4,0.5,0.6,0.7,0.8,0.9,1,1.1,1.2,1.3,1.4,1.5,1.6,1.7,1.8,1.9,2],"labels":false,"tickSize":{"condition":{"test":"abs(datum.value*2-round(datum.value*2))<0.01","value":-5},"value":-3},"title":null}},
"y":{"datum":-0.135,"type":"quantitative","axis":{"orient":"right","values":[-0.2,-0.1,0,0.1,0.2,0.3,0.4,0.5,0.6],"tickSize":-6,"labels":false,"title":null}}}},
{"data":{"values":[{}]},"mark":{"type":"text","text":"TWA 8B, P = 0.78 d","align":"center","baseline":"middle","fontSize":10.5},"encoding":{"x":{"datum":1,"type":"quantitative","axis":null},"y":{"datum":0.547,"type":"quantitative","axis":null}}}
]},
{"width":117,"height":200,"data":{"name":"d"},"resolve":{"axis":{"x":"independent","y":"independent"}},
"layer":[
{"mark":{"type":"circle","size":28,"opacity":1,"color":"#000"},"encoding":{
"x":{"field":"x","type":"quantitative","scale":{"domain":[0,2],"nice":false,"zero":false},"axis":{"orient":"bottom","values":[0,0.1,0.2,0.3,0.4,0.5,0.6,0.7,0.8,0.9,1,1.1,1.2,1.3,1.4,1.5,1.6,1.7,1.8,1.9,2],"labels":false,"tickSize":{"condition":{"test":"abs(datum.value*2-round(datum.value*2))<0.01","value":-5},"value":-3},"title":null}},
"y":{"field":"y","type":"quantitative","scale":{"domain":[-0.2,0.6],"reverse":true,"nice":false,"zero":false},"axis":{"orient":"left","values":[-0.2,-0.1,0,0.1,0.2,0.3,0.4,0.5,0.6],"tickSize":-6,"labels":false,"title":null}}}},
{"data":{"values":[{}]},"mark":{"type":"text","text":"(d)","align":"left","baseline":"middle"},"encoding":{
"x":{"datum":0.13,"type":"quantitative","axis":{"orient":"top","values":[0,0.1,0.2,0.3,0.4,0.5,0.6,0.7,0.8,0.9,1,1.1,1.2,1.3,1.4,1.5,1.6,1.7,1.8,1.9,2],"labels":false,"tickSize":{"condition":{"test":"abs(datum.value*2-round(datum.value*2))<0.01","value":-5},"value":-3},"title":null}},
"y":{"datum":-0.135,"type":"quantitative","axis":{"orient":"right","values":[-0.2,-0.1,0,0.1,0.2,0.3,0.4,0.5,0.6],"tickSize":-6,"labelPadding":12,"labelExpr":"(datum.value<-0.001?'-':'')+format(abs(datum.value),'.1f')","title":null}}}},
{"data":{"values":[{}]},"mark":{"type":"text","text":"TWA 9A, P = 5.10 d","align":"center","baseline":"middle","fontSize":10.5},"encoding":{"x":{"datum":1,"type":"quantitative","axis":null},"y":{"datum":0.547,"type":"quantitative","axis":null}}}
]},
{"width":117,"height":200,"data":{"name":"e"},"resolve":{"axis":{"x":"independent","y":"independent"}},
"layer":[
{"mark":{"type":"circle","size":28,"opacity":1,"color":"#000"},"encoding":{
"x":{"field":"x","type":"quantitative","scale":{"domain":[0,2],"nice":false,"zero":false},"axis":{"orient":"bottom","values":[0,0.1,0.2,0.3,0.4,0.5,0.6,0.7,0.8,0.9,1,1.1,1.2,1.3,1.4,1.5,1.6,1.7,1.8,1.9,2],"labels":false,"tickSize":{"condition":{"test":"abs(datum.value*2-round(datum.value*2))<0.01","value":-5},"value":-3},"title":null}},
"y":{"field":"y","type":"quantitative","scale":{"domain":[-0.2,0.6],"reverse":true,"nice":false,"zero":false},"axis":{"orient":"left","values":[-0.2,-0.1,0,0.1,0.2,0.3,0.4,0.5,0.6],"tickSize":-6,"labelPadding":11.5,"labelExpr":"(datum.value<-0.001?'-':'')+format(abs(datum.value),'.1f')","title":null}}}},
{"data":{"values":[{}]},"mark":{"type":"text","text":"(e)","align":"left","baseline":"middle"},"encoding":{
"x":{"datum":0.13,"type":"quantitative","axis":{"orient":"top","values":[0,0.1,0.2,0.3,0.4,0.5,0.6,0.7,0.8,0.9,1,1.1,1.2,1.3,1.4,1.5,1.6,1.7,1.8,1.9,2],"labels":false,"tickSize":{"condition":{"test":"abs(datum.value*2-round(datum.value*2))<0.01","value":-5},"value":-3},"title":null}},
"y":{"datum":-0.135,"type":"quantitative","axis":{"orient":"right","values":[-0.2,-0.1,0,0.1,0.2,0.3,0.4,0.5,0.6],"tickSize":-6,"labels":false,"title":null}}}},
{"data":{"values":[{}]},"mark":{"type":"text","text":"TWA 9B, P = 3.98 d","align":"center","baseline":"middle","fontSize":10.5},"encoding":{"x":{"datum":1,"type":"quantitative","axis":null},"y":{"datum":0.544,"type":"quantitative","axis":null}}}
]},
{"width":117,"height":200,"data":{"name":"f"},"resolve":{"axis":{"x":"independent","y":"independent"}},
"layer":[
{"mark":{"type":"circle","size":28,"opacity":1,"color":"#000"},"encoding":{
"x":{"field":"x","type":"quantitative","scale":{"domain":[0,2],"nice":false,"zero":false},"axis":{"orient":"bottom","values":[0,0.1,0.2,0.3,0.4,0.5,0.6,0.7,0.8,0.9,1,1.1,1.2,1.3,1.4,1.5,1.6,1.7,1.8,1.9,2],"labels":false,"tickSize":{"condition":{"test":"abs(datum.value*2-round(datum.value*2))<0.01","value":-5},"value":-3},"title":null}},
"y":{"field":"y","type":"quantitative","scale":{"domain":[-0.2,0.6],"reverse":true,"nice":false,"zero":false},"axis":{"orient":"left","values":[-0.2,-0.1,0,0.1,0.2,0.3,0.4,0.5,0.6],"tickSize":-6,"labels":false,"title":null}}}},
{"data":{"values":[{}]},"mark":{"type":"text","text":"(f)","align":"left","baseline":"middle"},"encoding":{
"x":{"datum":0.13,"type":"quantitative","axis":{"orient":"top","values":[0,0.1,0.2,0.3,0.4,0.5,0.6,0.7,0.8,0.9,1,1.1,1.2,1.3,1.4,1.5,1.6,1.7,1.8,1.9,2],"labels":false,"tickSize":{"condition":{"test":"abs(datum.value*2-round(datum.value*2))<0.01","value":-5},"value":-3},"title":null}},
"y":{"datum":-0.135,"type":"quantitative","axis":{"orient":"right","values":[-0.2,-0.1,0,0.1,0.2,0.3,0.4,0.5,0.6],"tickSize":-6,"labels":false,"title":null}}}},
{"data":{"values":[{}]},"mark":{"type":"text","text":"TWA 10, P = 8.33 d","align":"center","baseline":"middle","fontSize":10.5},"encoding":{"x":{"datum":1,"type":"quantitative","axis":null},"y":{"datum":0.544,"type":"quantitative","axis":null}}}
]},
{"width":117,"height":200,"data":{"name":"g"},"resolve":{"axis":{"x":"independent","y":"independent"}},
"layer":[
{"mark":{"type":"circle","size":28,"opacity":1,"color":"#000"},"encoding":{
"x":{"field":"x","type":"quantitative","scale":{"domain":[0,2],"nice":false,"zero":false},"axis":{"orient":"bottom","values":[0,0.1,0.2,0.3,0.4,0.5,0.6,0.7,0.8,0.9,1,1.1,1.2,1.3,1.4,1.5,1.6,1.7,1.8,1.9,2],"tickSize":{"condition":{"test":"abs(datum.value*2-round(datum.value*2))<0.01","value":-5},"value":-3},"labelPadding":13,"labelExpr":"abs(datum.value*2-round(datum.value*2))<0.01 && datum.value<1.99 ? format(datum.value,'.1f') : ''","title":"Phase","titleX":117,"titleY":25,"titleAlign":"center","titleBaseline":"middle","titleAngle":0}},
"y":{"field":"y","type":"quantitative","scale":{"domain":[-0.4,1.2],"reverse":true,"nice":false,"zero":false},"axis":{"orient":"left","values":[-0.4,-0.2,0,0.2,0.4,0.6,0.8,1,1.2],"tickSize":-6,"labels":false,"title":null}}}},
{"data":{"values":[{}]},"mark":{"type":"text","text":"(g)","align":"left","baseline":"middle"},"encoding":{
"x":{"datum":0.13,"type":"quantitative","axis":{"orient":"top","values":[0,0.1,0.2,0.3,0.4,0.5,0.6,0.7,0.8,0.9,1,1.1,1.2,1.3,1.4,1.5,1.6,1.7,1.8,1.9,2],"labels":false,"tickSize":{"condition":{"test":"abs(datum.value*2-round(datum.value*2))<0.01","value":-5},"value":-3},"title":null}},
"y":{"datum":-0.28,"type":"quantitative","axis":{"orient":"right","values":[-0.4,-0.2,0,0.2,0.4,0.6,0.8,1,1.2],"tickSize":-6,"labels":false,"title":null}}}},
{"data":{"values":[{}]},"mark":{"type":"text","text":"TWA 13A, P = 5.56 d","align":"center","baseline":"middle","fontSize":10.5},"encoding":{"x":{"datum":1,"type":"quantitative","axis":null},"y":{"datum":1.08,"type":"quantitative","axis":null}}}
]},
{"width":117,"height":200,"data":{"name":"h"},"resolve":{"axis":{"x":"independent","y":"independent"}},
"layer":[
{"mark":{"type":"circle","size":28,"opacity":1,"color":"#000"},"encoding":{
"x":{"field":"x","type":"quantitative","scale":{"domain":[0,2],"nice":false,"zero":false},"axis":{"orient":"bottom","values":[0,0.1,0.2,0.3,0.4,0.5,0.6,0.7,0.8,0.9,1,1.1,1.2,1.3,1.4,1.5,1.6,1.7,1.8,1.9,2],"tickSize":{"condition":{"test":"abs(datum.value*2-round(datum.value*2))<0.01","value":-5},"value":-3},"labelPadding":13,"labelExpr":"abs(datum.value*2-round(datum.value*2))<0.01 ? format(datum.value,'.1f') : ''","title":null}},
"y":{"field":"y","type":"quantitative","scale":{"domain":[-0.4,1.2],"reverse":true,"nice":false,"zero":false},"axis":{"orient":"left","values":[-0.4,-0.2,0,0.2,0.4,0.6,0.8,1,1.2],"tickSize":-6,"labels":false,"title":null}}}},
{"data":{"values":[{}]},"mark":{"type":"text","text":"(h)","align":"left","baseline":"middle"},"encoding":{
"x":{"datum":0.13,"type":"quantitative","axis":{"orient":"top","values":[0,0.1,0.2,0.3,0.4,0.5,0.6,0.7,0.8,0.9,1,1.1,1.2,1.3,1.4,1.5,1.6,1.7,1.8,1.9,2],"labels":false,"tickSize":{"condition":{"test":"abs(datum.value*2-round(datum.value*2))<0.01","value":-5},"value":-3},"title":null}},
"y":{"datum":-0.28,"type":"quantitative","axis":{"orient":"right","values":[-0.4,-0.2,0,0.2,0.4,0.6,0.8,1,1.2],"tickSize":-6,"labelPadding":12,"labelExpr":"(datum.value<-0.001?'-':'')+format(abs(datum.value),'.1f')","title":null}}}},
{"data":{"values":[{}]},"mark":{"type":"text","text":"TWA 13B, P = 5.35 d","align":"center","baseline":"middle","fontSize":10.5},"encoding":{"x":{"datum":1,"type":"quantitative","axis":null},"y":{"datum":1.08,"type":"quantitative","axis":null}}}
]}
]
}
